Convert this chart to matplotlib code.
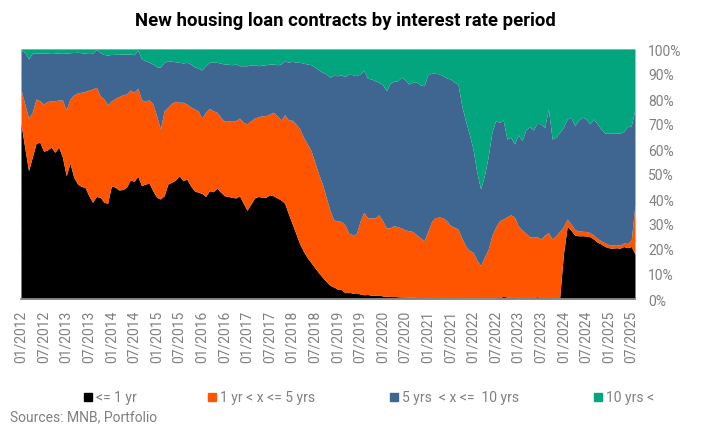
import numpy as np
import matplotlib
matplotlib.use("Agg")
import matplotlib.pyplot as plt
from matplotlib.patches import Rectangle

plt.rcParams['font.family'] = ['Roboto', 'DejaVu Sans']

# Cumulative shares (%) of new housing loan contracts, monthly 01/2012 - 08/2025
upto_1y = [
    70, 60.5, 51.3, 56.7, 62.3, 62.7, 59.1, 59.6, 60.7, 58.7,
    60.7, 56.7, 49.3, 54.3, 48.7, 46, 45, 44.7, 41.3, 38.7,
    41, 40.7, 38.7, 38.3, 45.3, 44.7, 43.6, 43.8, 44.7, 47.6,
    47.1, 49.1, 45.3, 46, 46.3, 43.3, 40.7, 40, 41.3, 46,
    46.7, 47.6, 49.3, 47.3, 48, 45.3, 43.3, 42.7, 42.3, 41,
    43.3, 42.9, 44.3, 42.7, 41.3, 41, 40.7, 40.4, 41.3, 38.3,
    35.5, 38, 40.4, 41, 40.7, 40.7, 41.7, 41.3, 40.4, 39.6,
    38.3, 34, 30, 26, 22, 19, 16.5, 14.5, 12.5, 10.5,
    8.7, 7, 5.5, 4.8, 4, 3.8, 2.5, 2.8, 2.3, 2.5,
    2, 1.7, 1.8, 1.5, 1.5, 1.6, 1.2, 1.1, 1, 1,
    0.9, 0.8, 0.8, 0.7, 0.7, 0.6, 0.6, 0.5, 0.5, 0.5,
    0.5, 0.5, 0.4, 0.4, 0.4, 0.4, 0.4, 0.3, 0.3, 0.3,
    0.3, 0.2, 0.2, 0.3, 0.3, 0.4, 0.5, 0.6, 1.0, 0.8,
    0.6, 0.6, 0.5, 0.5, 0.5, 0.5, 0.6, 0.9, 0.6, 0.5,
    0.5, 0.4, 0.4, 0.5, 18, 29, 27.5, 25.5, 25.3, 25.3,
    25.2, 24.9, 24, 22.7, 22, 21, 20.5, 20.3, 20.5, 20.3,
    21, 20.5, 21, 18,
]

upto_5y = [
    83.7, 78, 72.4, 74.7, 80, 79.3, 78, 79, 79.3, 79.3,
    79.6, 79.6, 75.6, 80, 81.6, 82.4, 82.7, 83, 83.6, 84,
    84.7, 81.3, 80, 77.7, 79.3, 80.3, 81, 81.7, 82, 83.6,
    82.7, 84.3, 79.6, 79.3, 79.6, 78, 73.3, 68, 75.3, 76.7,
    78.3, 79.1, 78.7, 78.7, 78, 76.9, 76, 75.3, 72.4, 74.7,
    76.3, 75.3, 74.7, 72.7, 71.1, 71.2, 71.1, 71.3, 72.4, 70.7,
    70, 71.3, 72.4, 72.9, 73.3, 73.3, 74, 74.7, 73.3, 71.6,
    73.7, 71.6, 71.5, 70, 68, 64.7, 62, 59.3, 54.7, 50,
    46, 40.7, 35.5, 31.6, 31.3, 31, 29.7, 26.3, 25.7, 26,
    31, 34.7, 32.4, 32.5, 32.4, 33.7, 31.3, 28.4, 28.5, 29.3,
    28.9, 28.4, 27.6, 27.3, 27, 25.7, 24.5, 23.3, 27, 31,
    32.5, 32.8, 32.5, 31.3, 29.5, 28.7, 28, 24.5, 21.3, 19.5,
    18.7, 15.6, 13.3, 16.7, 19.8, 25.3, 28.7, 31.3, 32, 32.9,
    33.7, 32.7, 29.3, 27.6, 26.3, 24.9, 24.7, 24.9, 24, 25.5,
    26.5, 24, 25.3, 27, 29, 32, 30, 27.8, 27.2, 27.1,
    27, 26.6, 25.6, 24.2, 23.3, 22.4, 21.8, 21.6, 21.8, 21.6,
    22.4, 22.2, 23.5, 38,
]

upto_10y = [
    99.5, 98.7, 96, 98.3, 98.4, 98.3, 98.4, 98.3, 98.2, 98.3,
    98.4, 98.5, 98.4, 98.5, 98.6, 98.7, 98.5, 98.3, 98.2, 98.3,
    99.8, 98.6, 97.8, 97.6, 97.8, 97.9, 97.9, 98, 98, 98,
    97.7, 99.5, 96, 95.3, 94.7, 94, 92.9, 92.7, 94.7, 95.3,
    95.1, 94.9, 94.7, 94.4, 94.7, 94, 92.9, 92.4, 91.6, 93.3,
    94.7, 94.7, 94.7, 94.3, 94, 93.9, 93.7, 94, 93.3, 93.3,
    93.3, 93.6, 93.7, 93.3, 93.6, 93.7, 94, 94, 93.7, 94,
    95.3, 94.7, 95.1, 94.7, 94.7, 94.3, 94, 93.7, 92.7, 91.6,
    90.7, 90, 88.7, 89.5, 89.3, 89.7, 88.9, 90, 89.7, 89.3,
    90, 91.3, 88.3, 88, 87.3, 86.7, 85.7, 83.3, 86.3, 87.1,
    87.3, 88.7, 87.6, 86, 86.7, 86.7, 85.7, 85.3, 89.7, 90.3,
    90.3, 90, 89.3, 88.4, 88, 86.7, 86, 77.3, 71.3, 66,
    60, 50.7, 44, 49.3, 56.7, 66.7, 71.3, 70.7, 71.6, 64,
    64.7, 62, 65.7, 63.3, 67.6, 68.9, 67.6, 70.3, 70, 68.5,
    76, 64, 64.7, 66.7, 68.7, 72, 72.7, 69.3, 71.6, 72.7,
    72, 70, 72, 70, 68, 66.3, 66.3, 66.3, 66.4, 66.3,
    67.1, 68.9, 69.3, 76,
]

tick_labels = [
    "01/2012", "07/2012", "01/2013", "07/2013", "01/2014", "07/2014",
    "01/2015", "07/2015", "01/2016", "07/2016", "01/2017", "07/2017",
    "01/2018", "07/2018", "01/2019", "07/2019", "01/2020", "07/2020",
    "01/2021", "07/2021", "01/2022", "07/2022", "01/2023", "07/2023",
    "01/2024", "07/2024", "01/2025", "07/2025",
]

series_names = ["<= 1 yr", "1 yr < x <= 5 yrs", "5 yrs  < x <=  10 yrs", "10 yrs <"]
colors = ["#000000", "#FF5500", "#3E6690", "#03A57F"]
gray = "#808080"

W, H = 718, 431
fig = plt.figure(figsize=(W / 100, H / 100), dpi=100)
ax = fig.add_axes([21 / W, 1 - 300 / H, 614 / W, 250 / H])

x = np.arange(len(upto_1y))
top = np.full(len(x), 100.0)
bounds = [np.zeros(len(x)), np.array(upto_1y), np.array(upto_5y), np.array(upto_10y), top]
for k in range(4):
    ax.fill_between(x, bounds[k], bounds[k + 1], color=colors[k], lw=0, zorder=2)

ax.set_xlim(0, len(x) - 1)
ax.set_ylim(0, 100)

ax.set_yticks(np.arange(0, 101, 10))
ax.set_yticklabels([f"{v}%" for v in range(0, 101, 10)])
ax.yaxis.tick_right()
ax.grid(axis="y", color="#d9d9d9", lw=1, zorder=0)
ax.set_axisbelow(True)

ax.set_xticks(np.arange(0, len(x), 6)[:len(tick_labels)])
ax.set_xticklabels(tick_labels, rotation=90)

ax.tick_params(axis="both", length=0, labelsize=10, labelcolor=gray)
ax.tick_params(axis="y", pad=9.5)
ax.tick_params(axis="x", pad=8)

for s in ["top", "left", "right"]:
    ax.spines[s].set_visible(False)
ax.spines["bottom"].set_color("#8c8c8c")
ax.spines["bottom"].set_linewidth(1.3)
ax.spines["bottom"].set_zorder(5)

fig.text(345 / W, 1 - 21 / H, "New housing loan contracts by interest rate period",
         ha="center", va="center", fontsize=13.3, fontweight="bold", color="black")

leg_x = [84, 208, 390, 594]
leg_y = 398
sq = 8
for k in range(4):
    fig.patches.append(Rectangle((leg_x[k] / W, 1 - (leg_y + sq / 2) / H), sq / W, sq / H,
                                 transform=fig.transFigure, color=colors[k]))
    fig.text((leg_x[k] + sq + 4) / W, 1 - leg_y / H, series_names[k],
             ha="left", va="center", fontsize=10, color=gray)

fig.text(10 / W, 1 - 417 / H, "Sources: MNB, Portfolio", ha="left", va="center",
         fontsize=10, color=gray)

fig.savefig("out.png", dpi=100)
